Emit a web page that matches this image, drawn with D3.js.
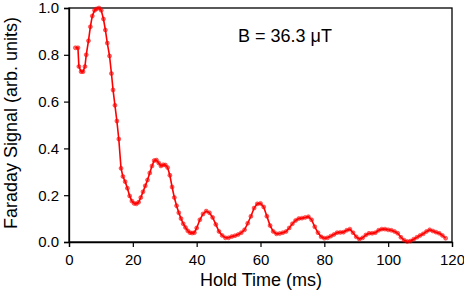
<!DOCTYPE html>
<html>
<head>
<meta charset="utf-8">
<script src="https://cdn.jsdelivr.net/npm/d3@7"></script>
<style>
  html, body { margin: 0; padding: 0; background: #fff; }
  svg { display: block; font-family: "Liberation Sans", Arial, sans-serif; }
</style>
</head>
<body>
<svg id="chart" width="464" height="293"></svg>
<script>
// Hold time (ms) and Faraday signal (arb. units)
const holdTimes = [
  2.0, 2.8, 3.1, 3.8, 4.4, 5.0, 5.4, 6.1, 6.7, 7.3, 8.0, 8.6, 9.4, 10.1, 10.8,
  11.4, 12.0, 12.7, 13.3, 13.8, 14.4, 15.0, 15.6, 16.3, 16.9, 17.6, 18.3, 19.0,
  19.7, 20.4, 21.1, 21.8, 22.5, 23.2, 23.9, 24.6, 25.3, 26.0, 26.7, 27.4, 28.1,
  28.8, 29.5, 30.2, 30.9, 31.6, 32.3, 33.0, 33.7, 34.4, 35.1, 35.8, 36.5, 37.2,
  37.9, 38.6, 39.3,
  40, 41, 42, 43, 44, 45, 46, 47, 48, 49, 50, 51, 52, 53, 54, 55, 56, 57, 58, 59,
  60, 61, 62, 63, 64, 65, 66, 67, 68, 69, 70, 71, 72, 73, 74, 75, 76, 77, 78, 79,
  80, 81, 82, 83, 84, 85, 86, 87, 88, 89, 90, 91, 92, 93, 94, 95, 96, 97, 98, 99,
  100, 101, 102, 103, 104, 105, 106, 107, 108, 109, 110, 111, 112, 113, 114, 115,
  116, 117, 118
];
const faradaySignal = [
  0.83, 0.83, 0.75, 0.728, 0.728, 0.75, 0.80, 0.86, 0.92, 0.966, 0.99, 0.996, 1.0, 0.99, 0.953,
  0.906, 0.85, 0.795, 0.72, 0.65, 0.584, 0.517, 0.44, 0.315, 0.28, 0.258, 0.23, 0.197,
  0.175, 0.165, 0.163, 0.17, 0.19, 0.215, 0.24, 0.265, 0.295, 0.325, 0.348, 0.35, 0.338,
  0.325, 0.33, 0.329, 0.318, 0.285, 0.235, 0.19, 0.155, 0.125, 0.10, 0.078, 0.062, 0.048,
  0.04, 0.038, 0.04,
  0.06, 0.095, 0.12, 0.132, 0.125, 0.105, 0.075, 0.045, 0.028, 0.018, 0.018, 0.023, 0.027, 0.032, 0.04, 0.052, 0.08, 0.11, 0.145, 0.163,
  0.165, 0.15, 0.11, 0.07, 0.045, 0.035, 0.036, 0.04, 0.045, 0.06, 0.078, 0.092, 0.10, 0.102, 0.105, 0.108, 0.095, 0.065, 0.04, 0.022,
  0.016, 0.018, 0.025, 0.032, 0.04, 0.041, 0.042, 0.05, 0.055, 0.04, 0.022, 0.012, 0.018, 0.03, 0.037, 0.037, 0.04, 0.05, 0.055, 0.055,
  0.052, 0.05, 0.045, 0.037, 0.02, 0.008, 0.002, 0.004, 0.012, 0.02, 0.028, 0.035, 0.045, 0.052, 0.047, 0.042,
  0.037, 0.028, 0.016
];
const xTicks = [0, 20, 40, 60, 80, 100, 120];
const yTicks = [0.0, 0.2, 0.4, 0.6, 0.8, 1.0];

const data = holdTimes.map((t, i) => ({ t: t, v: faradaySignal[i] }));

const svg = d3.select("#chart");
const margin = { top: 8, right: 12, bottom: 51, left: 69 };
const width = 464 - margin.left - margin.right;
const height = 293 - margin.top - margin.bottom;

const g = svg.append("g")
  .attr("transform", `translate(${margin.left},${margin.top})`);

const x = d3.scaleLinear().domain([0, 120]).range([0, width]);
const y = d3.scaleLinear().domain([0, 1]).range([height, 0]);

// Rahmen
g.append("rect")
  .attr("x", 0)
  .attr("y", 0)
  .attr("width", width)
  .attr("height", height)
  .attr("fill", "none")
  .attr("stroke", "#000")
  .attr("stroke-width", 1.3);

const xAxis = g.append("g")
  .attr("transform", `translate(0,${height})`)
  .call(d3.axisBottom(x).tickValues(xTicks).tickSize(5).tickPadding(7).tickFormat(d3.format("d")));

const yAxis = g.append("g")
  .call(d3.axisLeft(y).tickValues(yTicks).tickSize(5).tickPadding(5).tickFormat(d3.format(".1f")));

[xAxis, yAxis].forEach(ax => {
  ax.select(".domain").attr("stroke-width", 1.3);
  ax.selectAll(".tick line").attr("stroke-width", 1.2);
  ax.selectAll("text")
    .attr("fill", "#000")
    .attr("font-size", "15px")
    .attr("font-family", "Liberation Sans, Arial, sans-serif");
});

// Kurve + Marker
const line = d3.line()
  .x(d => x(d.t))
  .y(d => y(d.v));

g.append("path")
  .datum(data)
  .attr("fill", "none")
  .attr("stroke", "#ff0000")
  .attr("stroke-width", 1.6)
  .attr("d", line);

g.append("g")
  .selectAll("circle")
  .data(data)
  .enter()
  .append("circle")
    .attr("cx", d => x(d.t))
    .attr("cy", d => y(d.v))
    .attr("r", 2)
    .attr("fill", "#ff0000")
    .attr("fill-opacity", 0.55)
    .attr("stroke", "#ff0000")
    .attr("stroke-opacity", 0.6)
    .attr("stroke-width", 0.8);

// Achsentitel
g.append("text")
  .attr("x", 192)
  .attr("y", height + 44)
  .attr("text-anchor", "middle")
  .attr("fill", "#000")
  .attr("font-size", "18px")
  .text("Hold Time (ms)");

g.append("text")
  .attr("transform", "rotate(-90)")
  .attr("x", -height / 2 + 2)
  .attr("y", -52)
  .attr("text-anchor", "middle")
  .attr("fill", "#000")
  .attr("font-size", "18px")
  .text("Faraday Signal (arb. units)");

// Annotation
g.append("text")
  .attr("x", 169)
  .attr("y", 34)
  .attr("fill", "#000")
  .attr("font-size", "18px")
  .text("B = 36.3 μT");
</script>
</body>
</html>
